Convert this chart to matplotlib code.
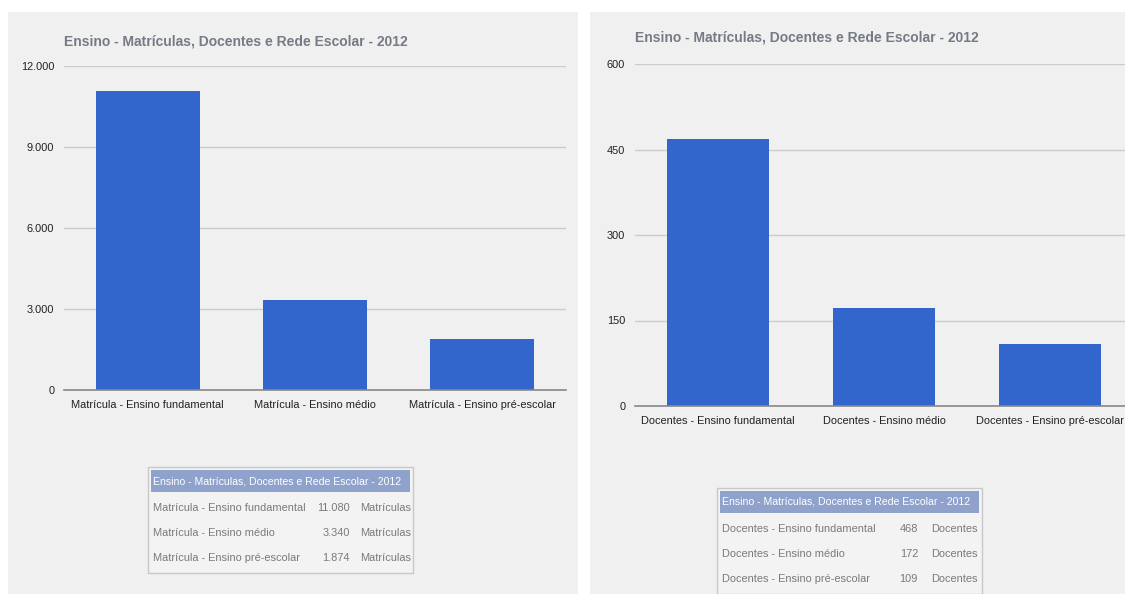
import matplotlib
matplotlib.use("Agg")
import matplotlib.pyplot as plt
from matplotlib.patches import Rectangle
from matplotlib.ticker import FuncFormatter

plt.rcParams['font.family'] = ['Liberation Sans', 'DejaVu Sans']

titulo = "Ensino - Matrículas, Docentes e Rede Escolar - 2012"

mat_cats = ["Matrícula - Ensino fundamental", "Matrícula - Ensino médio",
            "Matrícula - Ensino pré-escolar"]
mat_vals = [11080, 3340, 1874]
mat_ticks = [0, 3000, 6000, 9000, 12000]

doc_cats = ["Docentes - Ensino fundamental", "Docentes - Ensino médio",
            "Docentes - Ensino pré-escolar"]
doc_vals = [468, 172, 109]
doc_ticks = [0, 150, 300, 450, 600]

W, H = 1125, 594
BAR = "#3366cc"
GRID = "#cccccc"
TXT = "#222222"
TITLE_C = "#757b85"
ROW_C = "#7a7a7a"
FS = 7.9

fig = plt.figure(figsize=(W / 100, H / 100), dpi=100)
fig.patch.set_facecolor("white")


def px(x, y, w, h):
    # caixa em pixels (origem no topo) -> fração da figura
    return [x / W, 1 - (y + h) / H, w / W, h / H]


def fmt(v, _=None):
    return f"{int(v):,}".replace(",", ".")


# fundos dos painéis
for x0, x1, y0, y1 in [(8, 578, 12, 594), (590, 1125, 12, 594)]:
    fig.patches.append(Rectangle((x0 / W, 1 - y1 / H), (x1 - x0) / W, (y1 - y0) / H,
                                 transform=fig.transFigure, facecolor="#f0f0f0",
                                 edgecolor="none", zorder=-5))


def painel(box, cats, vals, ticks, title_xy):
    ax = fig.add_axes(px(*box))
    ax.set_zorder(2)
    ax.set_facecolor("none")
    ax.bar(range(len(vals)), vals, width=0.62, color=BAR, zorder=3)
    ax.set_xlim(-0.5, len(vals) - 0.5)
    ax.set_ylim(ticks[0], ticks[-1])
    ax.set_yticks(ticks)
    ax.yaxis.set_major_formatter(FuncFormatter(fmt))
    ax.set_xticks(range(len(cats)))
    ax.set_xticklabels(cats, fontsize=FS, color=TXT)
    ax.tick_params(axis="y", labelsize=FS, labelcolor=TXT, length=0, pad=7)
    ax.tick_params(axis="x", length=0, pad=7)
    ax.grid(axis="y", color=GRID, linewidth=1, zorder=0)
    for s in ["top", "right", "left"]:
        ax.spines[s].set_visible(False)
    ax.spines["bottom"].set_color("#888888")
    ax.spines["bottom"].set_linewidth(1.2)
    ax.spines["bottom"].set_zorder(4)
    fig.text(title_xy[0] / W, 1 - title_xy[1] / H, titulo, fontsize=10,
             fontweight="bold", color=TITLE_C, va="center", ha="left")
    return ax


painel((64, 66, 502, 324), mat_cats, mat_vals, mat_ticks, (64, 42))
painel((635, 64, 498, 342), doc_cats, doc_vals, doc_ticks, (635, 38))


def tabela(x, y, w, cats, vals, unit, val_right, unit_left):
    row_h = 25
    h = 22 + row_h * len(cats) + 9
    fig.patches.append(Rectangle((x / W, 1 - (y + h) / H), w / W, h / H,
                                 transform=fig.transFigure, facecolor="#f3f3f3",
                                 edgecolor="#c8c8c8", linewidth=1, zorder=1))
    fig.patches.append(Rectangle(((x + 3) / W, 1 - (y + 25) / H), (w - 6) / W, 22 / H,
                                 transform=fig.transFigure, facecolor="#8ea2cc",
                                 edgecolor="none", zorder=2))
    fig.text((x + 5) / W, 1 - (y + 14) / H, titulo, fontsize=7.6, color="white",
             va="center", ha="left", zorder=3)
    for i, (c, v) in enumerate(zip(cats, vals)):
        yy = y + 41 + i * row_h
        fig.text((x + 5) / W, 1 - yy / H, c, fontsize=FS, color=ROW_C,
                 va="center", ha="left")
        fig.text(val_right / W, 1 - yy / H, fmt(v), fontsize=FS, color=ROW_C,
                 va="center", ha="right")
        fig.text(unit_left / W, 1 - yy / H, unit, fontsize=FS, color=ROW_C,
                 va="center", ha="left")


tabela(148, 467, 265, mat_cats, mat_vals, "Matrículas", 350, 360)
tabela(717, 488, 265, doc_cats, doc_vals, "Docentes", 918, 931)

fig.savefig("out.png", dpi=100)
